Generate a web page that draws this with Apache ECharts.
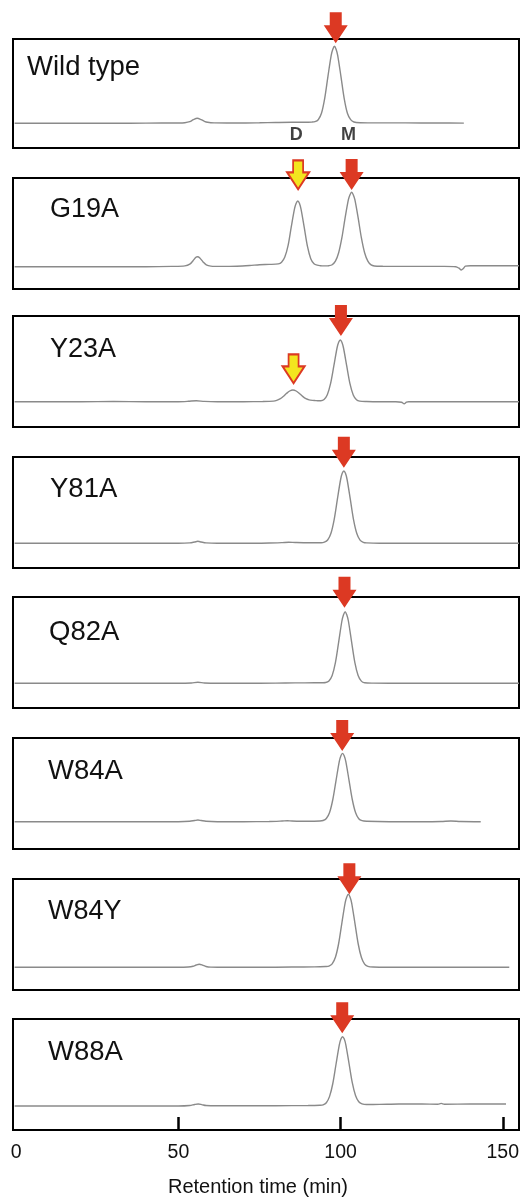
<!DOCTYPE html>
<html>
<head>
<meta charset="utf-8">
<script src="https://cdn.jsdelivr.net/npm/echarts@6/dist/echarts.min.js"></script>
<style>
  html, body { margin: 0; padding: 0; background: #fff; }
  #chart { width: 524px; height: 1200px; }
</style>
</head>
<body>
<div id="chart"></div>
<script>
// ---- Data: gel-filtration traces, [retention time (min), absorbance (a.u.)] ----
const panelNames = ['Wild type', 'G19A', 'Y23A', 'Y81A', 'Q82A', 'W84A', 'W84Y', 'W88A'];

const wildType = [[-0.5,0],[10,0],[20,0.2],[30,0],[40,0.2],[50,0.3],[52,0.6],[53.5,1.6],[54.6,3.6],[55.8,5],[57,3.7],[58,2],[59,1],[61,0.4],[65,0.3],[70,0.3],[75,0.5],[80,0.8],[85,1],[89,1],[91.1,1.2],[92.1,1.6],[93.1,3.6],[94.1,10],[95.1,25],[96.1,47],[97.1,68],[97.6,74],[98.1,77],[98.6,74],[99.1,68],[100.1,47],[101.1,25],[102.1,10],[103.1,3.6],[104.1,1.3],[106,0.6],[112,0.4],[120,0.4],[130,0.3],[138,0.2]];

const g19a = [[-0.5,0],[10,0],[20,0],[30,0],[40,0],[48,0.3],[52,0.8],[53.5,2.5],[54.5,6],[55.4,9.5],[55.9,10],[56.6,8.8],[57.6,4.8],[58.6,1.8],[60,0.6],[63,0.3],[68,0.5],[72,1.2],[75,2],[78,2.3],[80.8,2.8],[81.8,4.5],[82.8,9.7],[83.8,21],[84.8,40],[85.8,58],[86.3,63.5],[86.8,65.7],[87.3,63.5],[87.8,57.5],[88.8,39],[89.8,20],[90.8,8],[91.8,3],[92.8,1.5],[93.8,1],[94.6,0.8],[95.4,0.8],[96.4,1],[97.4,2],[98.4,5.6],[99.4,14],[100.4,29],[101.4,49],[102.4,67],[102.9,72],[103.4,74.4],[103.9,72],[104.4,67],[105.4,49],[106.4,29],[107.4,14],[108.4,5.6],[109.4,1.8],[110.4,0.7],[113,0.4],[118,0.3],[125,0.3],[132,0.3],[135.5,0],[136.5,-1.5],[137.2,-3.3],[137.8,-2],[138.5,0.5],[140,1],[145,1],[155,1]];

const y23a = [[-0.5,0],[10,0],[20,0],[30,0.2],[40,0],[50,0],[53,0.4],[55.5,1],[58,0.3],[62,0],[70,0],[76,0.2],[79.3,0.6],[80.3,1.3],[81.3,2.8],[82.3,5.2],[83.3,8.2],[84.3,10.7],[85.3,11.7],[86.3,10.7],[87.3,8.2],[88.3,5.3],[89.3,3],[90.3,1.8],[91.3,1.3],[92.3,1.1],[92.9,1],[93.9,1],[94.9,2.3],[95.9,7],[96.9,18],[97.9,35.5],[98.9,53.7],[99.4,59.5],[99.9,61.7],[100.4,59.5],[100.9,53.7],[101.9,35.5],[102.9,17.8],[103.9,6.7],[104.9,1.9],[105.9,0.6],[108,0.2],[112,0],[117,0],[118.8,-0.5],[119.6,-2],[120.3,-0.5],[121,0],[130,0],[140,0],[155,0]];

const y81a = [[-0.5,0],[10,0],[20,0],[30,0],[40,0],[50,0],[53.5,0.4],[55,1.3],[56,2],[57,1.3],[58.5,0.4],[62,0],[70,0],[78,0.3],[82,0.7],[84,1],[86,0.8],[90,0.6],[94,0.6],[95,1.2],[96,3.3],[97,9.8],[98,23.5],[99,43.9],[100,63.8],[100.5,70],[101,72.3],[101.5,70],[102,63.8],[103,43.9],[104,23.5],[105,9.8],[106,3.2],[107,1],[108,0.4],[112,0],[120,0],[130,0],[140,0],[155,0]];

const q82a = [[-0.5,0],[10,0],[20,0],[30,0],[40,0],[50,0],[54,0.3],[56,1],[58,0.3],[62,0],[70,0],[80,0.2],[86,0.4],[92,0.5],[94.4,0.6],[95.4,0.8],[96.4,2.4],[97.4,7.8],[98.4,20.6],[99.4,41.2],[100.4,62.3],[100.9,68.5],[101.4,71.6],[101.9,68.5],[102.4,62.3],[103.4,41.2],[104.4,20.6],[105.4,7.8],[106.4,2.2],[107.4,0.6],[110,0.2],[120,0],[135,0],[155,0]];

const w84a = [[-0.5,0],[10,0],[20,0],[30,0],[40,0],[50,0],[53.5,0.4],[55,1.2],[56,1.7],[57,1.2],[58.5,0.4],[62,0],[70,0],[78,0.2],[82,0.7],[83.6,1],[85,0.7],[90,0.4],[93.6,0.7],[94.6,1.2],[95.6,3.2],[96.6,9.2],[97.6,22.2],[98.6,41.4],[99.6,60.3],[100.1,66],[100.6,68.3],[101.1,66],[101.6,60.3],[102.6,41.4],[103.6,22.2],[104.6,9.2],[105.6,3],[106.6,1],[108,0.4],[115,0],[125,0],[131,0.2],[134,0.7],[137,0.2],[143.2,0]];

const w84y = [[-0.5,0],[10,0],[20,0],[30,0],[40,0],[50,0],[53,0.3],[54.5,1],[55.5,2.3],[56.4,3],[57.4,2.2],[58.5,0.8],[60,0.2],[65,0],[75,0],[85,0.3],[92,0.4],[95.4,0.8],[96.4,1.2],[97.4,3.4],[98.4,10],[99.4,23.8],[100.4,44.5],[101.4,64.5],[101.9,70.3],[102.4,73],[102.9,70.3],[103.4,64.5],[104.4,44.5],[105.4,23.8],[106.4,10],[107.4,3.2],[108.4,1],[110,0.3],[120,0],[130,0],[140,0],[152,0]];

const w88a = [[-0.5,0],[10,0],[20,0],[30,0],[40,0],[50,0],[53.5,0.5],[55,1.5],[56.1,2],[57.2,1.4],[58.5,0.5],[62,0.2],[70,0.2],[80,0.3],[90,0.5],[93.6,0.8],[94.6,1.2],[95.6,3.3],[96.6,9.6],[97.6,22.5],[98.6,42],[99.6,61.2],[100.1,67],[100.6,69.3],[101.1,67.2],[101.6,61.4],[102.6,42.5],[103.6,23.3],[104.6,10.5],[105.6,4.2],[106.6,2.2],[108,1.5],[112,1.6],[118,2],[125,2],[130,1.8],[131,2.6],[132,1.8],[140,2],[151,2]];

const traces = [wildType, g19a, y23a, y81a, q82a, w84a, w84y, w88a];

// Arrows marking the peaks: [panel, retention time, arrow-tip level]
const monomerArrows = [[0,98.5,80],[1,103.4,76.7],[2,100.1,65.7],[3,101,75.6],[4,101.2,75.6],[5,100.5,70.7],[6,102.7,73],[7,100.5,72.7]];
const dimerArrows = [[1,86.9,77.4],[2,85.5,18.4]];

// Peak tags under the wild-type trace: [text, retention time, level]
const peakTags = [['D',86.3,-11.5],['M',102.4,-11.5]];

const tickValues = [0, 50, 100, 150];
const xTitle = 'Retention time (min)';

// ---- Layout ----
const FONT = '"Liberation Sans", Arial, Helvetica, sans-serif';
const panelTop    = [39, 178, 316, 457, 597, 738, 879, 1019];
const panelHeight = [109, 111, 111, 111, 111, 111, 111, 111];
const baseRoom    = [24.7, 22.3, 25.3, 24.7, 24.7, 27.3, 22.7, 24];
const labelLeft   = [27, 50, 50, 50, 49, 48, 48, 48];
const labelMid    = [67, 210, 350, 489, 632, 771, 912, 1052];
const labelSize   = [27.5, 27, 27, 27.5, 27.5, 27.5, 27, 27.5];
const GRID_LEFT = 13, GRID_WIDTH = 506;
const X_MIN = -1, X_MAX = 155;

const RED = '#dc3923';
const YELLOW = '#f3e51f';
const ARROW_RED = 'path://M6,0L18,0L18,13L24,13L12,31L0,13L6,13Z';
const ARROW_YEL = 'path://M6,0L16,0L16,12L22,12L11,29L0,12L6,12Z';

const grid = [], xAxis = [], yAxis = [], series = [], graphic = [];
const last = panelNames.length - 1;

panelNames.forEach((name, i) => {
  grid.push({
    left: GRID_LEFT, width: GRID_WIDTH, top: panelTop[i], height: panelHeight[i],
    show: true, borderColor: '#000', borderWidth: 2, backgroundColor: 'transparent'
  });
  const ax = { gridIndex: i, type: 'value', min: X_MIN, max: X_MAX, show: i === last, splitLine: { show: false } };
  if (i === last) {
    Object.assign(ax, {
      axisLine: { show: false, onZero: false },
      axisTick: { show: true, inside: true, length: 13, customValues: tickValues.slice(1),
                  lineStyle: { color: '#000', width: 2.5 } },
      axisLabel: { customValues: tickValues, fontSize: 19.5, color: '#111', fontFamily: FONT, margin: 13 },
      name: xTitle, nameLocation: 'middle', nameGap: 47,
      nameTextStyle: { fontSize: 20, color: '#111', fontFamily: FONT, padding: [0, 16, 0, 0] }
    });
  }
  xAxis.push(ax);
  yAxis.push({ gridIndex: i, type: 'value', show: false,
               min: -baseRoom[i], max: panelHeight[i] - baseRoom[i] });

  series.push({
    type: 'line', xAxisIndex: i, yAxisIndex: i, data: traces[i],
    showSymbol: false, smooth: 0.3, clip: true,
    lineStyle: { color: '#8a8a8a', width: 1.4 }, z: 2
  });

  const red = monomerArrows.filter(a => a[0] === i).map(a => [a[1], a[2]]);
  series.push({
    type: 'scatter', xAxisIndex: i, yAxisIndex: i, data: red, clip: false,
    symbol: ARROW_RED, symbolSize: [24, 31], symbolOffset: [0, '-50%'],
    itemStyle: { color: RED, opacity: 1 }, z: 5, silent: true
  });
  const yel = dimerArrows.filter(a => a[0] === i).map(a => [a[1], a[2]]);
  if (yel.length) {
    series.push({
      type: 'scatter', xAxisIndex: i, yAxisIndex: i, data: yel, clip: false,
      symbol: ARROW_YEL, symbolSize: [22, 29], symbolOffset: [0, '-50%'],
      itemStyle: { color: YELLOW, borderColor: RED, borderWidth: 2, borderJoin: 'miter', opacity: 1 },
      z: 5, silent: true
    });
  }

  graphic.push({
    type: 'text', left: labelLeft[i], top: labelMid[i] - labelSize[i] / 2, z: 10,
    style: { text: name, fontSize: labelSize[i], fontFamily: FONT, fill: '#111' }
  });
});

// D / M tags in the wild-type panel
series.push({
  type: 'scatter', xAxisIndex: 0, yAxisIndex: 0, clip: false, symbolSize: 0,
  data: peakTags.map(t => ({ value: [t[1], t[2]], name: t[0] })),
  label: { show: true, position: 'inside', formatter: p => p.name,
           fontSize: 18, fontWeight: 'bold', color: '#111', fontFamily: FONT },
  z: 6, silent: true
});

const chart = echarts.init(document.getElementById('chart'), null, { renderer: 'canvas' });
chart.setOption({
  backgroundColor: '#fff',
  animation: false,
  grid, xAxis, yAxis, series, graphic
});
</script>
</body>
</html>
